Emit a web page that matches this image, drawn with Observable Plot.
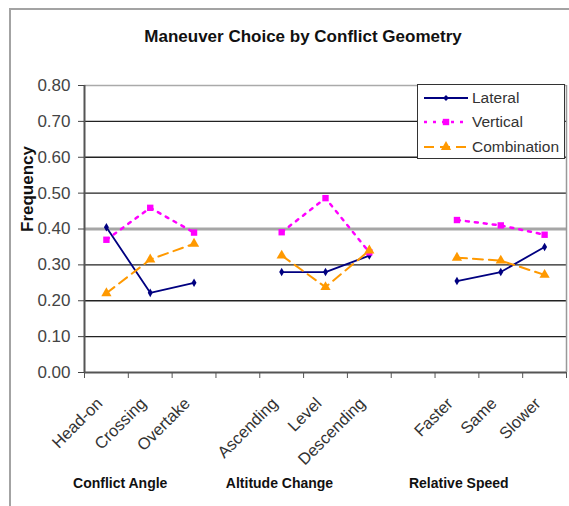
<!DOCTYPE html>
<html>
<head>
<meta charset="utf-8">
<script src="https://cdn.jsdelivr.net/npm/d3@7"></script>
<script src="https://cdn.jsdelivr.net/npm/@observablehq/plot@0.6"></script>
<style>
  html, body { margin: 0; padding: 0; background: #fff; }
  #wrap { position: relative; width: 569px; height: 506px; overflow: hidden; background: #fff;
          font-family: "Liberation Sans", Arial, sans-serif; }
  #frame { position: absolute; left: 9px; top: 8px; width: 640px; height: 640px;
           border: 2px solid #a3a3a3; box-sizing: border-box; }
  #title { position: relative; box-sizing: border-box; width: 569px; height: 60px;
           padding-top: 27px; padding-left: 37px; text-align: center;
           font-size: 17px; line-height: 20px; font-weight: bold; color: #111; }
  #chart { position: relative; }
  #legend { position: absolute; left: 417px; top: 84px; width: 148px; height: 75px;
            box-sizing: border-box; border: 1.5px solid #333; background: #fff; padding-top: 1px; }
  .row { height: 24.3px; display: flex; align-items: center; font-size: 15.5px; color: #333; }
  .row svg { margin-left: 5px; margin-right: 3px; }
</style>
</head>
<body>
<div id="wrap">
  <div id="frame"></div>
  <div id="title"></div>
  <div id="chart"></div>
  <div id="legend"></div>
</div>
<script>
// ---- data ----
const title = "Maneuver Choice by Conflict Geometry";
const yLabel = "Frequency";
const groups = ["Conflict Angle", "Altitude Change", "Relative Speed"];
const categories = [
  ["Head-on", "Crossing", "Overtake"],
  ["Ascending", "Level", "Descending"],
  ["Faster", "Same", "Slower"]
];
const seriesNames = ["Lateral", "Vertical", "Combination"];
const lateral     = [0.405, 0.222, 0.250, 0.280, 0.280, 0.326, 0.255, 0.280, 0.350];
const vertical    = [0.370, 0.459, 0.390, 0.391, 0.486, 0.335, 0.425, 0.410, 0.384];
const combination = [0.221, 0.315, 0.359, 0.326, 0.238, 0.340, 0.320, 0.312, 0.272];
const yTicks = [0, 0.1, 0.2, 0.3, 0.4, 0.5, 0.6, 0.7, 0.8];

// ---- build table ----
const valuesBySeries = [lateral, vertical, combination];
const rows = [];
seriesNames.forEach((s, si) => {
  let k = 0;
  categories.forEach((cats, gi) => cats.forEach(c => {
    rows.push({series: s, group: groups[gi], category: c, value: valuesBySeries[si][k++]});
  }));
});
// x domain with blank spacer slots between groups
const xDomain = [];
categories.forEach((cats, gi) => {
  if (gi > 0) xDomain.push(" ".repeat(gi));
  xDomain.push(...cats);
});
const flatCats = categories.flat();

const colors = {Lateral: "#000080", Vertical: "#ff00ff", Combination: "#ff9900"};
const dash = {Lateral: null, Vertical: "3,6", Combination: "10,6"};
const symbols = {Lateral: "diamond", Vertical: "square", Combination: "triangle"};
const radii = {Lateral: 2.6, Vertical: 3.6, Combination: 3.8};
const widths = {Lateral: 1.8, Vertical: 2.5, Combination: 2};

const W = 569, H = 446, mL = 84, mR = 3, mT = 25, mB = 134;
const bw = (W - mL - mR) / xDomain.length;
const font = "'Liberation Sans', Arial, sans-serif";

document.getElementById("title").textContent = title;

const seriesMarks = seriesNames.flatMap(s => {
  const d = rows.filter(r => r.series === s);
  return [
    Plot.line(d, {x: "category", y: "value", z: "group", stroke: colors[s],
                  strokeWidth: widths[s], strokeDasharray: dash[s]}),
    Plot.dot(d, {x: "category", y: "value", symbol: () => symbols[s], r: radii[s],
                 fill: colors[s], stroke: "none"})
  ];
});

const chart = Plot.plot({
  width: W, height: H, marginLeft: mL, marginRight: mR, marginTop: mT, marginBottom: mB,
  style: {fontFamily: font, background: "transparent", overflow: "visible"},
  x: {type: "band", domain: xDomain, padding: 0, round: false, label: null},
  y: {domain: [0, 0.8], label: null},
  marks: [
    Plot.ruleY(yTicks.filter(t => t > 0 && t < 0.8 && t !== 0.4), {stroke: "#222", strokeWidth: 1.3}),
    Plot.ruleY([0.4], {stroke: "#a6a6a6", strokeWidth: 3}),
    Plot.ruleY([0.8], {stroke: "#aaa", strokeWidth: 1.5}),
    Plot.ruleX([xDomain[xDomain.length - 1]], {dx: bw / 2, stroke: "#999", strokeWidth: 1.5}),
    Plot.ruleX([xDomain[0]], {dx: -bw / 2, stroke: "#555", strokeWidth: 2}),
    Plot.ruleY([0], {stroke: "#555", strokeWidth: 2}),
    Plot.axisY({ticks: yTicks, tickFormat: d3.format(".2f"), tickSize: 6, tickPadding: 8,
                fontSize: 17, color: "#444", label: null}),
    Plot.axisX({ticks: xDomain, tickFormat: () => "", tickSize: 6, dx: -bw / 2, color: "#555", label: null}),
    Plot.axisX({ticks: [xDomain[xDomain.length - 1]], tickFormat: () => "", tickSize: 6, dx: bw / 2, color: "#555", label: null}),
    Plot.text(flatCats, {x: d => d, frameAnchor: "bottom", rotate: -45, textAnchor: "end",
                         dy: 32, dx: -3, fontSize: 16.5, fill: "#333"}),
    Plot.text([groups[0]], {x: () => categories[0][1], frameAnchor: "bottom", dy: 115, dx: -30,
                            fontSize: 14, fontWeight: "bold", fill: "#111"}),
    Plot.text([groups[1]], {x: () => categories[1][1], frameAnchor: "bottom", dy: 115, dx: -46,
                            fontSize: 14, fontWeight: "bold", fill: "#111"}),
    Plot.text([groups[2]], {x: () => categories[2][1], frameAnchor: "bottom", dy: 115, dx: -42,
                            fontSize: 14, fontWeight: "bold", fill: "#111"}),
    Plot.text([yLabel], {frameAnchor: "left", rotate: -90, dx: -57, dy: 3,
                         fontSize: 17, fontWeight: "bold", fill: "#111"}),
    ...seriesMarks
  ]
});
document.getElementById("chart").appendChild(chart);

// ---- legend ----
const legend = d3.select("#legend");
seriesNames.forEach(s => {
  const row = legend.append("div").attr("class", "row");
  const svg = row.append("svg").attr("width", 46).attr("height", 12);
  svg.append("line").attr("x1", 1).attr("x2", 45).attr("y1", 6).attr("y2", 6)
     .attr("stroke", colors[s]).attr("stroke-width", widths[s])
     .attr("stroke-dasharray", dash[s]);
  svg.append("path").attr("transform", "translate(23,6)")
     .attr("d", d3.symbol(s === "Lateral" ? d3.symbolDiamond2 : s === "Vertical" ? d3.symbolSquare : d3.symbolTriangle,
                          Math.PI * radii[s] * radii[s])())
     .attr("fill", colors[s]);
  row.append("span").text(s);
});
</script>
</body>
</html>
